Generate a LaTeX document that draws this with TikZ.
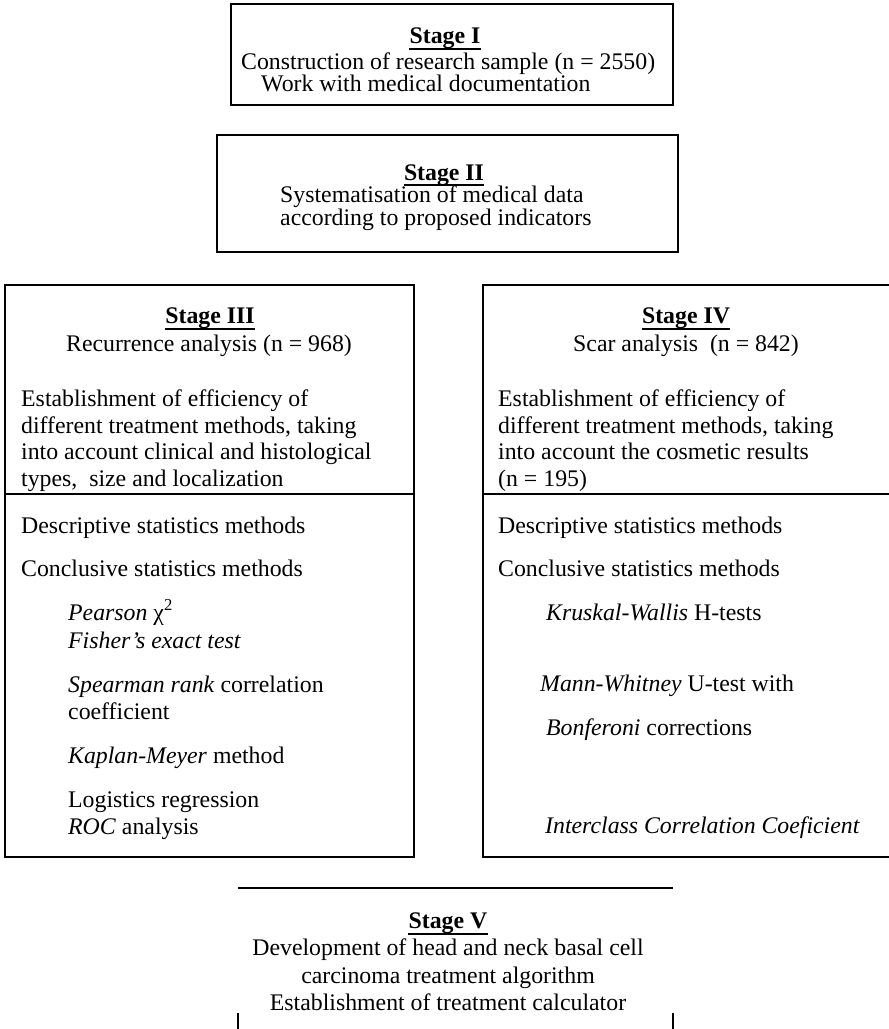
\documentclass[tikz,border=0pt]{standalone}
\usepackage{fontspec}
\setmainfont{Liberation Serif}
\begin{document}
\begin{tikzpicture}[x=1pt,y=-1pt,
  boxline/.style={line width=2.5pt},
  txt/.style={inner sep=0pt, anchor=base west, font=\fontsize{23.8}{27}\selectfont},
  ctxt/.style={txt, anchor=base},
  head/.style={ctxt, font=\fontsize{23.8}{27}\selectfont\bfseries},
  uline/.style={line width=1.4pt}]
\useasboundingbox (0,0) rectangle (889,1029);
\clip (0,0) rectangle (889,1029);

% Stage I
\draw[boxline] (231,4) rectangle (673,105);
\node[head] (s1h) at (445,43) {Stage I};
\draw[uline] ([yshift=-6pt]s1h.base west) -- ([yshift=-6pt]s1h.base east);
\node[txt] (s1a) at (241,69) {Construction of research sample (n = 2550)};
\node[txt] (s1b) at (261,91) {Work with medical documentation};

% Stage II
\draw[boxline] (217,135) rectangle (678,252);
\node[head] (s2h) at (444,180) {Stage II};
\draw[uline] ([yshift=-5pt]s2h.base west) -- ([yshift=-5pt]s2h.base east);
\node[txt] (s2a) at (280,202) {Systematisation of medical data};
\node[txt] (s2b) at (280,225) {according to proposed indicators};

% Stage III
\draw[boxline] (5,285) rectangle (414,857);
\draw[boxline] (5,494) -- (414,494);
\node[head] (s3h) at (210,323) {Stage III};
\draw[uline] ([yshift=-6pt]s3h.base west) -- ([yshift=-6pt]s3h.base east);
\node[ctxt] (s3a) at (209,351) {Recurrence analysis (n = 968)};
\node[txt] (s3b) at (21,406) {Establishment of efficiency of};
\node[txt] (s3c) at (21,433) {different treatment methods, taking};
\node[txt] (s3d) at (21,459) {into account clinical and histological};
\node[txt] (s3e) at (21,486) {types,\ \ size and localization};
\node[txt] (s3f) at (21,533) {Descriptive statistics methods};
\node[txt] (s3g) at (21,576) {Conclusive statistics methods};
\node[txt] (s3h2) at (68,620) {\textit{Pearson} χ\textsuperscript{2}};
\node[txt] (s3i) at (68,648) {\textit{Fisher’s exact test}};
\node[txt] (s3j) at (68,692) {\textit{Spearman rank} correlation};
\node[txt] (s3k) at (68,719) {coefficient};
\node[txt] (s3l) at (68,763) {\textit{Kaplan-Meyer} method};
\node[txt] (s3m) at (68,807) {Logistics regression};
\node[txt] (s3n) at (68,834) {\textit{ROC} analysis};

% Stage IV
\draw[boxline] (900,285) -- (483,285) -- (483,857) -- (900,857);
\draw[boxline] (483,494) -- (900,494);
\node[head] (s4h) at (686,323) {Stage IV};
\draw[uline] ([yshift=-6pt]s4h.base west) -- ([yshift=-6pt]s4h.base east);
\node[ctxt] (s4a) at (686,351) {Scar analysis\ \ (n = 842)};
\node[txt] (s4b) at (498,406) {Establishment of efficiency of};
\node[txt] (s4c) at (498,433) {different treatment methods, taking};
\node[txt] (s4d) at (498,459) {into account the cosmetic results};
\node[txt] (s4e) at (498,486) {(n = 195)};
\node[txt] (s4f) at (498,533) {Descriptive statistics methods};
\node[txt] (s4g) at (498,576) {Conclusive statistics methods};
\node[txt] (s4h2) at (546,620) {\textit{Kruskal-Wallis} H-tests};
\node[txt] (s4i) at (540,691) {\textit{Mann-Whitney} U-test with};
\node[txt] (s4j) at (546,735) {\textit{Bonferoni} corrections};
\node[txt] (s4k) at (545,833) {\textit{Interclass Correlation Coeficient}};

% Stage V
\draw[boxline] (238,888) -- (673,888);
\draw[boxline] (238,1013) -- (238,1040);
\draw[boxline] (673,1013) -- (673,1040);
\node[head] (s5h) at (448,928) {Stage V};
\draw[uline] ([yshift=-6pt]s5h.base west) -- ([yshift=-6pt]s5h.base east);
\node[ctxt] (s5a) at (448,955) {Development of head and neck basal cell};
\node[ctxt] (s5b) at (448,983) {carcinoma treatment algorithm};
\node[ctxt] (s5c) at (448,1010) {Establishment of treatment calculator};
\end{tikzpicture}
\end{document}
